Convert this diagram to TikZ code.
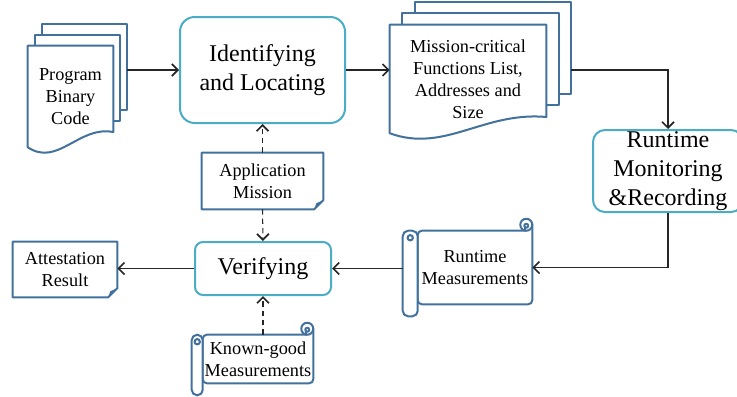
\documentclass[tikz,border=0pt]{standalone}
\usepackage{fontspec}
\setmainfont{Liberation Serif}
\usetikzlibrary{arrows.meta,calc,backgrounds}
\definecolor{docblue}{HTML}{41719C}
\definecolor{boxblue}{HTML}{4BACC6}

% stacked pages behind a wavy front page
\newcommand{\docstack}[3]{%
  \coordinate (#1-br) at ($(#1.south east)!0.15!(#1.north east)$);
  \begin{scope}[on background layer]
    \foreach \k in {2,1}
      \draw[docline,fill=white] ([shift={(\k*#2,\k*#3)}]#1.north west) rectangle ([shift={(\k*#2,\k*#3)}]#1-br);
    \draw[docline,fill=white] (#1.north west) -- (#1.south west)
      .. controls ($(#1.south west)!0.35!(#1.south east)+(0,20)$) and ($(#1.south west)!0.6!(#1.south east)+(0,-22)$) .. (#1-br)
      -- (#1.north east) -- cycle;
  \end{scope}
  \coordinate (#1-ne) at ([shift={(2*#2,2*#3)}]#1.north east);}

% scroll with a roller on the left
\newcommand{\scrollshape}[2]{%
  \begin{scope}[on background layer]
    \fill[white] (#1.south west) rectangle (#1.north east);
    \draw[docline,rounded corners=3pt] ([shift={(0,-6)}]#1.north east) -- (#1.south east) -- (#1.south west)
      -- (#1.north west) -- ([shift={(-6,0)}]#1.north east);
    \draw[docline,fill=white] ([shift={(-6,-6)}]#1.north east) circle[radius=4.5pt];
    \draw[docline,fill=white] ([shift={(-6,-5)}]#1.north east) circle[radius=1.5pt];
    \draw[docline] ([shift={(-7.5,-5)}]#1.north east) -- ([shift={(-7.5,0)}]#1.north east);
    \draw[docline,fill=white,rounded corners=4pt] ([shift={(-#2,0)}]#1.north west) rectangle ([shift={(0,12)}]#1.south west);
    \draw[docline] ([shift={(-#2/2,7)}]#1.north west) circle[radius=2pt];
  \end{scope}
  \coordinate (#1-w) at ([shift={(-#2,0)}]#1.west);}

% note with a folded corner
\newcommand{\noteshape}[1]{%
  \begin{scope}[on background layer]
    \draw[docline,fill=white] (#1.north west) -- (#1.north east) -- ([shift={(0,-9)}]#1.south east)
      -- ([shift={(-9,0)}]#1.south east) -- (#1.south west) -- cycle;
    \fill[docblue] ([shift={(0,-9)}]#1.south east) -- ([shift={(-9,0)}]#1.south east) -- ([shift={(-7,-6)}]#1.south east) -- cycle;
  \end{scope}}

\begin{document}
\begin{tikzpicture}[
  x=0.75pt,y=-0.75pt,
  font=\fontsize{13.7}{16.5}\selectfont,
  docline/.style={draw=docblue,line width=1.5pt,line join=round},
  page/.style={inner sep=0pt,align=center},
  proc/.style={draw=boxblue,line width=1.5pt,fill=white,inner sep=0pt,align=center,
               font=\fontsize{18}{22}\selectfont},
  arr/.style={-{Straight Barb[length=4.5pt,width=9pt,line width=1.3pt]},black!85,line width=0.8pt},
  darr/.style={arr,dash pattern=on 4pt off 3pt}]
  \useasboundingbox (0,0) rectangle (737,396);

  \node[page,minimum width=63.75pt,minimum height=75.75pt] (prog) at (70.5,96.5) {Program\\Binary\\Code};
  \node[proc,minimum width=123.75pt,minimum height=79.5pt,rounded corners=11pt] (ident) at (262.5,70) {Identifying\\and Locating};
  \node[page,minimum width=117pt,minimum height=81pt] (mission) at (468,79)
    {Mission-critical\\Functions List,\\Addresses and\\Size};
  \node[proc,minimum width=112.5pt,minimum height=61.5pt,rounded corners=9pt] (runtime) at (668,171)
    {Runtime\\Monitoring\\\&Recording};
  \node[page,minimum width=85.5pt,minimum height=54.75pt] (rmeas) at (475,267.5) {Runtime\\Measurements};
  \node[proc,minimum width=102pt,minimum height=39.75pt,rounded corners=6pt] (verify) at (263,268.5) {Verifying};
  \node[page,minimum width=90.75pt,minimum height=42pt] (appmis) at (262.5,181) {Application\\Mission};
  \node[page,minimum width=78pt,minimum height=41.25pt] (attest) at (65,269.5) {Attestation\\Result};
  \node[page,minimum width=82.5pt,minimum height=36pt] (known) at (258,359) {Known-good\\Measurements};

  \docstack{prog}{7}{-11}
  \docstack{mission}{12.5}{-11.5}
  \scrollshape{rmeas}{15}
  \scrollshape{known}{11}
  \noteshape{appmis}
  \noteshape{attest}

  \draw[arr] (prog-ne |- ident.west) -- (ident.west);
  \draw[arr] (ident.east) -- (ident.east -| mission.west);
  \draw[arr] (mission-ne |- ident.east) -| (runtime.north);
  \draw[arr] (runtime.south) |- (rmeas.east);
  \draw[arr] (rmeas-w |- verify.east) -- (verify.east);
  \draw[arr] (verify.west) -- (verify.west -| attest.east);
  \draw[darr] (appmis.north) -- (ident.south);
  \draw[darr] (appmis.south) -- (verify.north);
  \draw[darr] (verify.south |- known.north) -- (verify.south);
\end{tikzpicture}
\end{document}
